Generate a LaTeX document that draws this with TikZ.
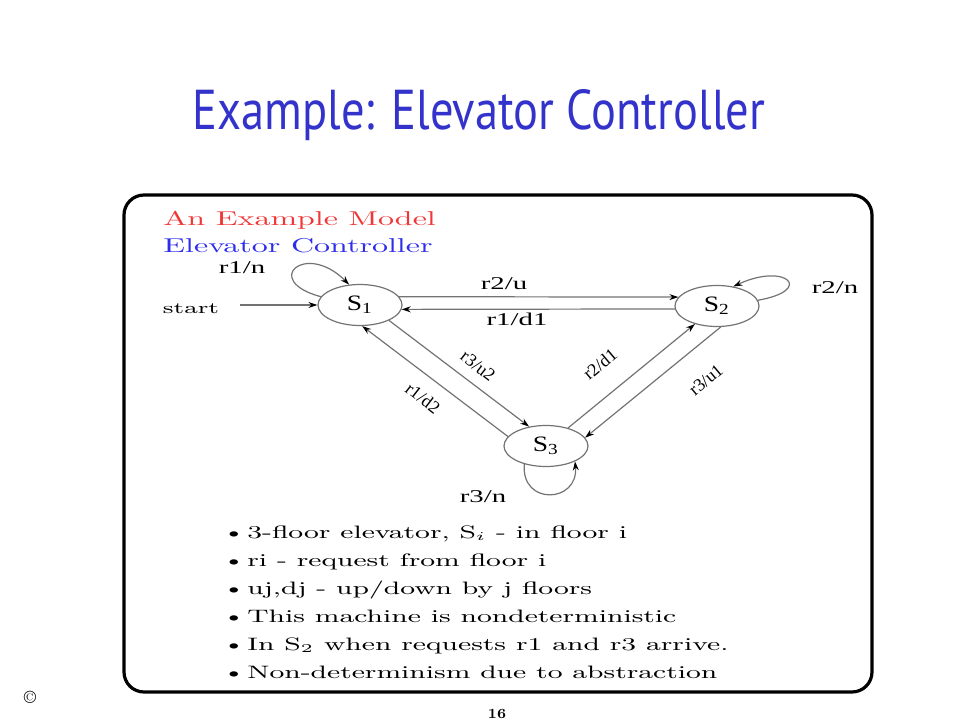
\documentclass[tikz,border=0pt]{standalone}
\usepackage{fontspec}
\usepackage{graphicx}
\usetikzlibrary{arrows.meta, shapes.geometric}
\newfontfamily\titlefont{PT Sans}
\newfontfamily\labelfont{Liberation Serif}
\definecolor{titleblue}{RGB}{51,51,204}
\definecolor{modelred}{RGB}{240,55,55}
\definecolor{modelblue}{RGB}{45,45,235}
\colorlet{edgegray}{black!55}
\newcommand{\wide}[1]{\scalebox{1.6}[1]{#1}}
\newcommand{\stname}[1]{\scalebox{1.25}[1]{S\textsubscript{#1}}}

\begin{document}
\begin{tikzpicture}[x=0.5pt, y=0.5pt, >={Stealth[length=4.5pt, width=3pt, color=black]},
    state/.style={ellipse, draw=edgegray, line width=0.6pt, minimum width=42pt, minimum height=20.5pt, inner sep=0pt, font=\fontsize{11}{11}\labelfont},
    trans/.style={->, draw=edgegray, line width=0.6pt},
    tlabel/.style={font=\fontsize{9}{9}\labelfont, inner sep=1pt},
    bullet/.style={anchor=base west, inner sep=0pt, font=\fontsize{9}{9}\selectfont}]
    \useasboundingbox (0,0) rectangle (960,720);

    % Title
    \node[anchor=base, text=titleblue, inner sep=0pt] (title) at (479,590) {\resizebox{286pt}{20pt}{\titlefont Example: Elevator Controller}};

    % Frame
    \draw[line width=1.6pt, rounded corners=10pt] (124,28) rectangle (872,525);
    \node[anchor=base west, inner sep=0pt, text=modelred] (model) at (163,495) {\wide{An Example Model}};
    \node[anchor=base west, inner sep=0pt, text=modelblue] (ctrl) at (163,468) {\wide{Elevator Controller}};

    % States
    \node[state] (s1) at (360,415) {\stname{1}};
    \node[state] (s2) at (717,414) {\stname{2}};
    \node[state] (s3) at (546,274) {\stname{3}};

    % Start arrow
    \coordinate (st) at (240,415);
    \node[font=\fontsize{8}{8}\selectfont] (startlbl) at (191,411) {\wide{start}};
    \draw[trans] (st) -- (s1.west);

    % Self loops
    \draw[trans] (s1.168) .. controls +(165:62) and +(135:62) .. (s1.118);
    \draw[trans] (s2.8) .. controls +(10:58) and +(25:58) .. (s2.50);
    \draw[trans] (s3.220) .. controls +(-95:42) and +(-85:42) .. (s3.332);
    \node[tlabel] (l1n) at (242,452) {\wide{r1/n}};
    \node[tlabel] (l2n) at (835,432) {\wide{r2/n}};
    \node[tlabel] (l3n) at (483,223) {\wide{r3/n}};

    % Transitions between floors
    \draw[trans] (s1.12) -- (s2.167);
    \draw[trans] (s2.184) -- (s1.354);
    \draw[trans] (s1.332) -- (s3.131);
    \draw[trans] (s3.166) -- (s1.276);
    \draw[trans] (s3) -- (s2);
    \draw[trans] (s2.280) -- (s3.12);
    \node[tlabel] (l2u) at (504,436) {\wide{r2/u}};
    \node[tlabel] (l1d1) at (517,401) {\wide{r1/d1}};
    \node[tlabel, rotate=-38] (l3u2) at (478,354) {r3/u2};
    \node[tlabel, rotate=-38] (l1d2) at (423,322) {r1/d2};
    \node[tlabel, rotate=40] (l2d1) at (600,356) {r2/d1};
    \node[tlabel, rotate=40] (l3u1) at (706,340) {r3/u1};

    % Notes
    \node[bullet] (b1) at (222,182) {\wide{\makebox[7.8pt][l]{\textbullet}3-floor elevator, S$_i$ - in floor i}};
    \node[bullet] (b2) at (222,154) {\wide{\makebox[7.8pt][l]{\textbullet}ri - request from floor i}};
    \node[bullet] (b3) at (222,126) {\wide{\makebox[7.8pt][l]{\textbullet}uj,dj - up/down by j floors}};
    \node[bullet] (b4) at (222,98) {\wide{\makebox[7.8pt][l]{\textbullet}This machine is nondeterministic}};
    \node[bullet] (b5) at (222,70) {\wide{\makebox[7.8pt][l]{\textbullet}In S$_2$ when requests r1 and r3 arrive.}};
    \node[bullet] (b6) at (222,42) {\wide{\makebox[7.8pt][l]{\textbullet}Non-determinism due to abstraction}};

    % Footer
    \node[font=\fontsize{7}{7}\selectfont\bfseries] (pagenum) at (497,6) {16};
    \node[font=\fontsize{9}{9}\selectfont] (copy) at (30,23) {\textcopyright};
\end{tikzpicture}
\end{document}
